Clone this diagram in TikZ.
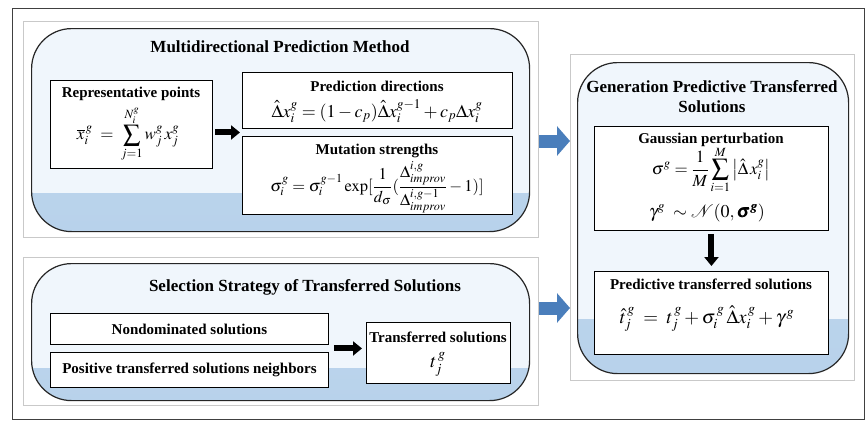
\documentclass[tikz,border=0pt]{standalone}
\usepackage{amsmath}
\usepackage{mathptmx}
\usepackage{bm}
\usepackage[no-math]{fontspec}
\setmainfont{Liberation Serif}
\usetikzlibrary{arrows.meta, calc}

\definecolor{panelfill}{HTML}{F0F6FC}
\definecolor{panelband}{HTML}{B8D2EB}
\definecolor{framegray}{HTML}{C9C9C9}
\definecolor{flowblue}{HTML}{4A7EBB}

% bottom glow of the rounded panels (tikz maps 25bp..75bp onto the path)
\pgfdeclareverticalshading{panelglow}{100bp}{color(0bp)=(panelband); color(25bp)=(panelband); color(55bp)=(panelband!92!white); color(68bp)=(panelband!35!white); color(75bp)=(panelfill); color(100bp)=(panelfill)}

\tikzset{
	outerframe/.style={draw=black!75, line width=0.9pt},
	grayframe/.style={draw=framegray, line width=1.1pt, fill=white, anchor=north west, inner sep=0pt},
	panel/.style={draw=black!85, line width=1.2pt, rounded corners=40pt, fill=panelfill,
		anchor=north west, inner sep=0pt,
		path picture={\shade[sharp corners, shading=panelglow]
			(path picture bounding box.south west) rectangle ([yshift=#1]path picture bounding box.south east);}},
	panel/.default=36pt,
	stepbox/.style={draw=black, line width=0.9pt, fill=white, anchor=north west, inner sep=0pt},
	ptitle/.style={font=\fontsize{17}{20}\selectfont\bfseries, align=center, inner sep=0pt},
	btitle/.style={font=\fontsize{15}{18}\selectfont\bfseries, inner sep=0pt},
	eq/.style={font=\fontsize{17}{20}\selectfont, inner sep=0pt},
	blkarrow/.style={line width=6pt, -{Triangle[width=14pt,length=9pt]}},
	bluearrow/.style={draw=flowblue, line width=13pt, -{Triangle[width=29pt,length=13pt]}},
}

\begin{document}
\begin{tikzpicture}[x=1pt, y=-1pt]
	\useasboundingbox[fill=white] (0,0) rectangle (868,421);
	\draw[outerframe] (12,8) rectangle (864,419);

	% the three panels
	\node[grayframe, minimum width=515pt, minimum height=216pt] (frame1) at (23,21) {};
	\node[panel=38pt, minimum width=498pt, minimum height=203pt] (panel1) at (31,28) {};
	\node[grayframe, minimum width=515pt, minimum height=148pt] (frame2) at (23,257) {};
	\node[panel=32pt, minimum width=498pt, minimum height=137pt] (panel2) at (31,263) {};
	\node[grayframe, minimum width=284pt, minimum height=326pt] (frame3) at (570,54) {};
	\node[panel=54pt, minimum width=271pt, minimum height=311pt] (panel3) at (577,62) {};

	% multidirectional prediction
	\node[ptitle] (title1) at (280,47) {Multidirectional Prediction Method};
	\node[stepbox, minimum width=162pt, minimum height=88pt] (rep) at (50,80) {};
	\node[btitle] at (131,94) {Representative points};
	\node[eq] at (128,134) {$\displaystyle \overline{x}_i^{\,g}\;=\;\sum_{j=1}^{N_i^g} w_j^{g}\,x_j^{g}$};

	\node[stepbox, minimum width=270pt, minimum height=56pt] (pred) at (242,72) {};
	\node[btitle] at (377,86) {Prediction directions};
	\node[eq, font=\fontsize{18}{21}\selectfont] at (377,111) {$\hat{\Delta}x_i^g=(1-c_p)\hat{\Delta}x_i^{g-1}+c_p\Delta x_i^g$};

	\node[stepbox, minimum width=270pt, minimum height=78pt] (mut) at (242,136) {};
	\node[btitle] at (377,151) {Mutation strengths};
	\node[eq, font=\fontsize{16.5}{19}\selectfont] at (377,187) {$\displaystyle \sigma_i^g=\sigma_i^{g-1}\exp[\frac{1}{d_\sigma}(\frac{\Delta_{improv}^{i,g}}{\Delta_{improv}^{i,g-1}}-1)]$};

	\coordinate (gap) at ($(pred.south west)!0.5!(mut.north west)$);
	\draw[blkarrow, shorten <=2pt, shorten >=2pt] (rep.east |- gap) -- (gap);

	% selection of transferred solutions
	\node[ptitle] (title2) at (305,287) {Selection Strategy of Transferred Solutions};
	\node[stepbox, btitle, minimum width=278pt, minimum height=31pt] (nondom) at (50,313) {Nondominated solutions};
	\node[stepbox, btitle, minimum width=278pt, minimum height=35pt] (posit) at (50,352) {Positive transferred solutions neighbors};
	\node[stepbox, minimum width=144pt, minimum height=61pt] (trans) at (366,322) {};
	\node[btitle] at (438,337) {Transferred solutions};
	\node[eq, font=\fontsize{19}{22}\selectfont] at (438,364) {$t_j^{\,g}$};

	\coordinate (mid) at ($(nondom.south east)!0.5!(posit.north east)$);
	\draw[blkarrow, shorten <=5pt, shorten >=4pt] (mid) -- (mid -| trans.west);

	% predictive transferred solutions
	\node[ptitle] (title3) at (712,97) {Generation Predictive Transferred\\Solutions};
	\node[stepbox, minimum width=234pt, minimum height=104pt] (gauss) at (594,126) {};
	\node[btitle] at (711,140) {Gaussian perturbation};
	\node[eq] at (711,170) {$\displaystyle \sigma^g=\frac{1}{M}\sum_{i=1}^{M}\left|\hat{\Delta}\,x_i^g\right|$};
	\node[eq, font=\fontsize{18}{21}\selectfont] at (707,213) {$\gamma^g\;\sim\mathcal{N}(0,\bm{\sigma^g})$};

	\node[stepbox, minimum width=234pt, minimum height=83pt] (predt) at (594,271) {};
	\node[btitle] at (711,284) {Predictive transferred solutions};
	\node[eq, font=\fontsize{19}{22}\selectfont] at (707,319) {$\hat{t}_j^{\,g}\;=\;t_j^{\,g}+\sigma_i^{\,g}\,\hat{\Delta}x_i^{\,g}+\gamma^{\,g}$};

	\draw[blkarrow, shorten <=3pt, shorten >=5pt] (gauss.south) -- (predt.north);

	% flow between panels
	\draw[bluearrow] (frame1.east |- 0,141) -- (frame3.west |- 0,141);
	\draw[bluearrow] (frame2.east |- 0,308) -- (frame3.west |- 0,308);
\end{tikzpicture}
\end{document}
